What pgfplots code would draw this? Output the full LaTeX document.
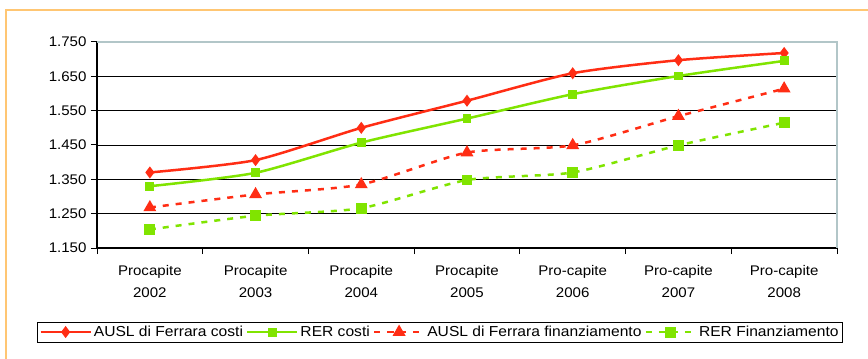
\documentclass[border=0pt]{standalone}
\usepackage{fontspec}
\setmainfont{Liberation Sans}[FakeStretch=1.08]
\usepackage{pgfplots}
\usepackage{pgfplotstable}
\pgfplotsset{compat=1.18}

\definecolor{cRed}{RGB}{255,45,20}
\definecolor{cGreen}{RGB}{128,228,0}
\definecolor{frameOrange}{RGB}{255,198,115}
\definecolor{boxGray}{RGB}{178,198,200}

% costi e finanziamento pro-capite (euro)
\pgfplotstableread{
x ausl_costi rer_costi ausl_fin rer_fin
0 1370 1330 1268 1204
1 1406 1369 1306 1244
2 1500 1457 1335 1266
3 1579 1527 1428 1348
4 1659 1598 1449 1370
5 1697 1651 1534 1449
6 1718 1695 1614 1515
}\datatable

\begin{document}
\begin{tikzpicture}
\useasboundingbox (0,0) rectangle (868bp,359bp);
\fill[white] (0,0) rectangle (868bp,359bp);
\draw[frameOrange, line width=1.5bp] (6bp,-5bp) -- (6bp,349bp) -- (880bp,349bp);
\begin{axis}[
  at={(97bp,111bp)}, anchor=south west,
  scale only axis, width=740bp, height=206bp,
  xmin=-0.5, xmax=6.5, ymin=1150, ymax=1750,
  axis lines*=left,
  axis line style={-, black, line width=1.2bp},
  ytick={1150,1250,...,1750},
  xtick={-0.5,0.5,...,6.5},
  x tick label as interval,
  xticklabels={{Procapite\\2002},{Procapite\\2003},{Procapite\\2004},{Procapite\\2005},{Pro-capite\\2006},{Pro-capite\\2007},{Pro-capite\\2008}},
  xticklabel style={align=center, font=\fontsize{14}{22}\selectfont, yshift=-8bp},
  yticklabel style={font=\fontsize{14}{17}\selectfont, xshift=-1bp},
  /pgf/number format/.cd, 1000 sep={.}, assume math mode=true,
  /pgfplots/.cd,
  tick align=outside,
  major tick length=6bp,
  tick style={black, line width=1bp},
  ymajorgrids,
  major grid style={black, line width=0.8bp},
  legend columns=4,
  legend cell align=left,
  legend style={at={(-0.0811,-0.408)}, anchor=west, draw=black, line width=0.8bp,
    font=\fontsize{14.5}{17}\selectfont, inner sep=2bp,
    /tikz/every even column/.append style={column sep=1bp}},
  legend image code/.code={\draw[mark repeat=2,mark phase=2,#1] plot coordinates {(0bp,0bp)(25bp,0bp)(50bp,0bp)};},
  after end axis/.code={
    \draw[boxGray, line width=1.6bp] (rel axis cs:0,1) -- (rel axis cs:1,1) -- (rel axis cs:1,0);
  },
]
\addplot[cRed, line width=2.5bp, smooth, tension=0.4, mark=diamond*, mark size=4bp, mark options={solid}]
  table[x=x, y=ausl_costi] {\datatable};
\addlegendentry{AUSL di Ferrara costi}
\addplot[cGreen, line width=2.5bp, smooth, tension=0.4, mark=square*, mark size=3.2bp, mark options={solid}]
  table[x=x, y=rer_costi] {\datatable};
\addlegendentry{RER costi}
\addplot[cRed, line width=2.5bp, dash pattern=on 6bp off 7bp, smooth, tension=0.4, mark=triangle*, mark size=5bp, mark options={solid}]
  table[x=x, y=ausl_fin] {\datatable};
\addlegendentry{AUSL di Ferrara finanziamento}
\addplot[cGreen, line width=2.5bp, dash pattern=on 6bp off 7bp, smooth, tension=0.4, mark=square*, mark size=4.2bp, mark options={solid}]
  table[x=x, y=rer_fin] {\datatable};
\addlegendentry{RER Finanziamento}
\end{axis}
\end{tikzpicture}
\end{document}
